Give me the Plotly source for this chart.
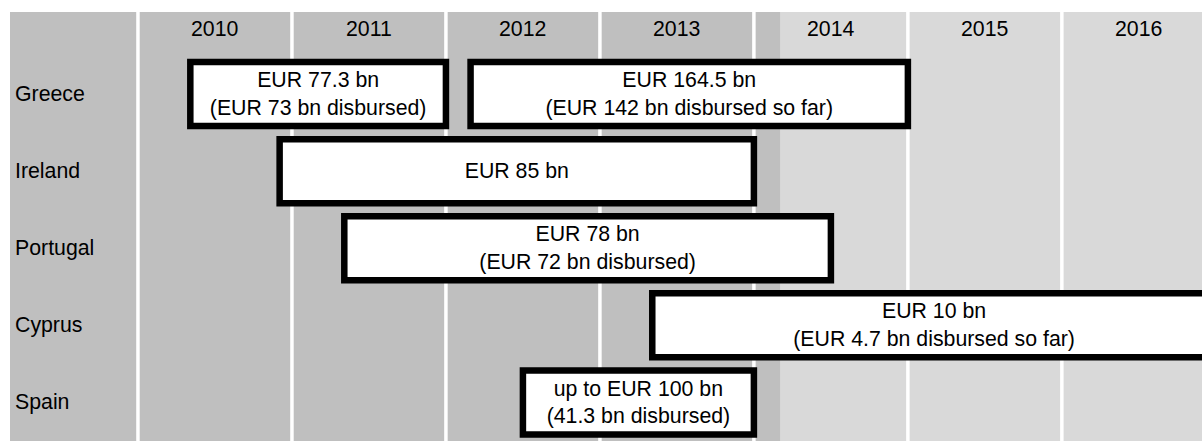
import plotly.graph_objects as go

# ---- data ----
countries = ["Greece", "Ireland", "Portugal", "Cyprus", "Spain"]
years = [2010, 2011, 2012, 2013, 2014, 2015, 2016]
today = 2014.17  # end of shaded "past" period

prog_country = ["Greece", "Greece", "Ireland", "Portugal", "Cyprus", "Spain"]
prog_start = [2010.34, 2012.16, 2010.92, 2011.34, 2013.34, 2012.50]
prog_end = [2012.00, 2015.00, 2014.00, 2014.50, 2017.00, 2014.00]
prog_label = [
    "EUR 77.3 bn<br>(EUR 73 bn disbursed)",
    "EUR 164.5 bn<br>(EUR 142 bn disbursed so far)",
    "EUR 85 bn",
    "EUR 78 bn<br>(EUR 72 bn disbursed)",
    "EUR 10 bn<br>(EUR 4.7 bn disbursed so far)",
    "up to EUR 100 bn<br>(41.3 bn disbursed)",
]

# ---- styling ----
DARK = "#bfbfbf"
LIGHT = "#d9d9d9"
FONT = "Liberation Sans, Arial, sans-serif"
FSIZE = 21.3
X_MIN, X_MAX = 2009.169, 2016.91
Y_TOP, Y_BOTTOM = -1.064, 4.50
HEADER_Y = -0.84

row_of = {c: i for i, c in enumerate(countries)}
ys = [row_of[c] for c in prog_country]
durations = [e - s for s, e in zip(prog_start, prog_end)]

fig = go.Figure()
fig.add_trace(go.Bar(
    orientation="h",
    y=ys,
    x=durations,
    base=prog_start,
    width=0.83,
    marker=dict(color="white", line=dict(color="black", width=6.5)),
    text=prog_label,
    textposition="inside",
    insidetextanchor="middle",
    constraintext="none",
    textfont=dict(family=FONT, size=FSIZE, color="black"),
    hoverinfo="skip",
    showlegend=False,
))

shapes = []
# label column
shapes.append(dict(type="rect", xref="x", yref="paper", x0=X_MIN, x1=years[0],
                   y0=0, y1=1, fillcolor=DARK, line=dict(width=0), layer="below"))
for yr in years:
    shapes.append(dict(type="rect", xref="x", yref="paper", x0=yr, x1=yr + 1,
                       y0=0, y1=1, fillcolor=DARK if yr + 1 <= today else LIGHT,
                       line=dict(width=0), layer="below"))
# past part of current year
cur = int(today)
shapes.append(dict(type="rect", xref="x", yref="paper", x0=cur, x1=today,
                   y0=0, y1=1, fillcolor=DARK, line=dict(width=0), layer="below"))
# white separators
for yr in years:
    shapes.append(dict(type="line", xref="x", yref="paper", x0=yr, x1=yr,
                       y0=0, y1=1, line=dict(color="white", width=3.5), layer="below"))

annotations = []
for yr in years:
    annotations.append(dict(x=yr + 0.5, y=HEADER_Y, xref="x", yref="y", text=str(yr),
                            showarrow=False, font=dict(family=FONT, size=FSIZE, color="black"),
                            xanchor="center", yanchor="middle"))
for c in countries:
    annotations.append(dict(x=X_MIN, y=row_of[c], xref="x", yref="y", text=c,
                            showarrow=False, xshift=3,
                            font=dict(family=FONT, size=FSIZE, color="black"),
                            xanchor="left", yanchor="middle"))

fig.update_layout(
    width=1202, height=441,
    margin=dict(l=10, r=0, t=12, b=0),
    paper_bgcolor="white",
    plot_bgcolor="white",
    shapes=shapes,
    annotations=annotations,
    xaxis=dict(range=[X_MIN, X_MAX], visible=False, showgrid=False, zeroline=False),
    yaxis=dict(range=[Y_BOTTOM, Y_TOP], visible=False, showgrid=False, zeroline=False),
    barmode="overlay",
)

# remove the browser's default 8px body margin so the figure fills the window
fig.write_html(
    "out.html",
    config={"displayModeBar": False},
    post_script="document.body.style.margin='0';document.body.style.overflow='hidden';",
)
